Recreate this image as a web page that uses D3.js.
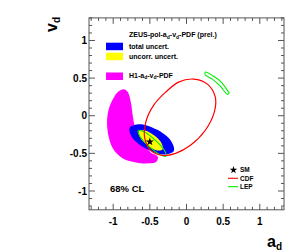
<!DOCTYPE html>
<html>
<head>
<meta charset="utf-8">
<script src="https://cdn.jsdelivr.net/npm/d3@7"></script>
<style>
  body { margin: 0; background: #fff; }
  svg { display: block; font-family: "Liberation Sans", Arial, sans-serif; font-weight: bold; }
</style>
</head>
<body>
<div id="chart"></div>
<script>
var width = 291, height = 252;

// tick labels on both axes
var tickValues = [-1, -0.5, 0, 0.5, 1];
var tickLabels = ["-1", "-0.5", "0", "0.5", "1"];

// contours, [a_d, v_d]
var h1Contour = [[-0.854, 0.353], [-0.799, 0.313], [-0.759, 0.18], [-0.732, -0.007], [-0.705, -0.14],
  [-0.623, -0.327], [-0.488, -0.487], [-0.393, -0.54], [-0.407, -0.607], [-0.515, -0.633],
  [-0.691, -0.62], [-0.867, -0.567], [-0.989, -0.46], [-1.057, -0.3], [-1.084, -0.087],
  [-1.057, 0.1], [-0.989, 0.247], [-0.921, 0.327]];
var totalContour = [[-0.173, -0.468], [-0.310, -0.515], [-0.543, -0.443], [-0.736, -0.296],
  [-0.775, -0.159], [-0.638, -0.112], [-0.405, -0.184], [-0.213, -0.331]];
var uncorrContour = [[-0.328, -0.449], [-0.411, -0.459], [-0.538, -0.389], [-0.637, -0.284],
  [-0.648, -0.204], [-0.565, -0.195], [-0.438, -0.264], [-0.339, -0.369]];
var cdfContour = [[0.095, 0.487], [0.285, 0.42], [0.393, 0.247], [0.379, 0.047], [0.257, -0.193],
  [0.054, -0.393], [-0.149, -0.5], [-0.325, -0.527], [-0.488, -0.46], [-0.569, -0.3],
  [-0.556, -0.087], [-0.447, 0.14], [-0.285, 0.313], [-0.108, 0.447]];
var lepContour1 = [[0.257, 0.58], [0.366, 0.527], [0.474, 0.447], [0.556, 0.34], [0.583, 0.3],
  [0.556, 0.287], [0.461, 0.393], [0.352, 0.487], [0.257, 0.54]];
var lepContour2 = [[-0.276, -0.536], [-0.360, -0.519], [-0.508, -0.411], [-0.631, -0.279],
  [-0.659, -0.197], [-0.573, -0.216], [-0.427, -0.323], [-0.304, -0.455]];
var smPoint = [-0.5, -0.346];

var x = d3.scaleLinear().domain([-1.33, 1.33]).range([89, 284]);
var y = d3.scaleLinear().domain([-1.25, 1.3]).range([209.8, 17.9]);

var svg = d3.select("#chart").append("svg")
  .attr("width", width)
  .attr("height", height);

var line = d3.line()
  .x(function(d) { return x(d[0]); })
  .y(function(d) { return y(d[1]); })
  .curve(d3.curveCatmullRomClosed);

var plot = svg.append("g");

plot.append("path").attr("d", line(h1Contour)).attr("fill", "#ff00ff");
plot.append("path").attr("d", line(totalContour)).attr("fill", "#0000ff");
plot.append("path").attr("d", line(uncorrContour)).attr("fill", "#ffff00");

[lepContour1, lepContour2].forEach(function(c) {
  plot.append("path").attr("d", line(c))
    .attr("fill", "none").attr("stroke", "#00ee00").attr("stroke-width", 1.1);
});

plot.append("path").attr("d", line(cdfContour))
  .attr("fill", "none").attr("stroke", "#ff0000").attr("stroke-width", 1.2);

var star = d3.symbol().type(d3.symbolStar).size(22);
plot.append("path").attr("d", star())
  .attr("transform", "translate(" + x(smPoint[0]) + "," + y(smPoint[1]) + ")")
  .attr("fill", "#000");

// frame and ticks (ROOT style: inward ticks on all four sides)
var x0 = x.range()[0], x1 = x.range()[1], y0 = y.range()[1], y1 = y.range()[0];
svg.append("rect")
  .attr("x", x0).attr("y", y0).attr("width", x1 - x0).attr("height", y1 - y0)
  .attr("fill", "none").attr("stroke", "#555").attr("stroke-width", 1);

var minorX = d3.range(-13, 14).map(function(i) { return i / 10; });
var minorY = d3.range(-12, 14).map(function(i) { return i / 10; });
var isMajor = function(v) { return Math.abs(v * 2 - Math.round(v * 2)) < 1e-6; };

var tickGroup = svg.append("g").attr("stroke", "#555").attr("stroke-width", 1);
minorX.forEach(function(v) {
  var len = isMajor(v) ? 6 : 3;
  tickGroup.append("line").attr("x1", x(v)).attr("x2", x(v)).attr("y1", y1).attr("y2", y1 - len);
  tickGroup.append("line").attr("x1", x(v)).attr("x2", x(v)).attr("y1", y0).attr("y2", y0 + len);
});
minorY.forEach(function(v) {
  var len = isMajor(v) ? 6 : 3;
  tickGroup.append("line").attr("y1", y(v)).attr("y2", y(v)).attr("x1", x0).attr("x2", x0 + len);
  tickGroup.append("line").attr("y1", y(v)).attr("y2", y(v)).attr("x1", x1).attr("x2", x1 - len);
});

svg.append("g").selectAll("text").data(tickValues).enter().append("text")
  .attr("x", function(d) { return x(d); })
  .attr("y", 225)
  .attr("text-anchor", "middle")
  .attr("font-size", 10)
  .text(function(d, i) { return tickLabels[i]; });

svg.append("g").selectAll("text").data(tickValues).enter().append("text")
  .attr("x", 87)
  .attr("y", function(d) { return y(d) + 3.6; })
  .attr("text-anchor", "end")
  .attr("font-size", 10)
  .text(function(d, i) { return tickLabels[i]; });

// axis titles
var xt = svg.append("text").attr("x", 267).attr("y", 247).attr("font-size", 16);
xt.append("tspan").text("a");
xt.append("tspan").attr("font-size", 10).attr("dy", 3).text("d");

var yt = svg.append("text").attr("transform", "translate(57,32) rotate(-90)").attr("font-size", 16);
yt.append("tspan").text("v");
yt.append("tspan").attr("font-size", 10).attr("dy", 3).text("d");

// legend, top
var lg = svg.append("g").attr("font-size", 7);
var title = lg.append("text").attr("x", 129).attr("y", 37);
title.append("tspan").text("ZEUS-pol-a");
title.append("tspan").attr("font-size", 5).attr("dy", 1.5).text("d");
title.append("tspan").attr("dy", -1.5).text("-v");
title.append("tspan").attr("font-size", 5).attr("dy", 1.5).text("d");
title.append("tspan").attr("dy", -1.5).text("-PDF (prel.)");

lg.append("rect").attr("x", 106).attr("y", 42.7).attr("width", 17).attr("height", 7.5).attr("fill", "#0000ff");
lg.append("text").attr("x", 129).attr("y", 49).text("total uncert.");
lg.append("rect").attr("x", 106).attr("y", 52.7).attr("width", 17).attr("height", 7.5).attr("fill", "#ffff00");
lg.append("text").attr("x", 129).attr("y", 59).text("uncorr. uncert.");
lg.append("rect").attr("x", 106).attr("y", 72.5).attr("width", 17).attr("height", 7.5).attr("fill", "#ff00ff");
var h1 = lg.append("text").attr("x", 129).attr("y", 77.5);
h1.append("tspan").text("H1-a");
h1.append("tspan").attr("font-size", 5).attr("dy", 1.5).text("d");
h1.append("tspan").attr("dy", -1.5).text("-v");
h1.append("tspan").attr("font-size", 5).attr("dy", 1.5).text("d");
h1.append("tspan").attr("dy", -1.5).text("-PDF");

// legend, bottom right
var lg2 = svg.append("g").attr("font-size", 6.5);
lg2.append("path").attr("d", d3.symbol().type(d3.symbolStar).size(18)())
  .attr("transform", "translate(233.5,170)").attr("fill", "#000");
lg2.append("text").attr("x", 240).attr("y", 172.3).text("SM");
lg2.append("line").attr("x1", 228).attr("x2", 238).attr("y1", 178.3).attr("y2", 178.3)
  .attr("stroke", "#ff0000").attr("stroke-width", 1.1);
lg2.append("text").attr("x", 240).attr("y", 180.7).text("CDF");
lg2.append("line").attr("x1", 228).attr("x2", 238).attr("y1", 186.7).attr("y2", 186.7)
  .attr("stroke", "#00ee00").attr("stroke-width", 1.1);
lg2.append("text").attr("x", 240).attr("y", 189).text("LEP");

svg.append("text").attr("x", 110).attr("y", 191.5).attr("font-size", 9.5).text("68% CL");
</script>
</body>
</html>
